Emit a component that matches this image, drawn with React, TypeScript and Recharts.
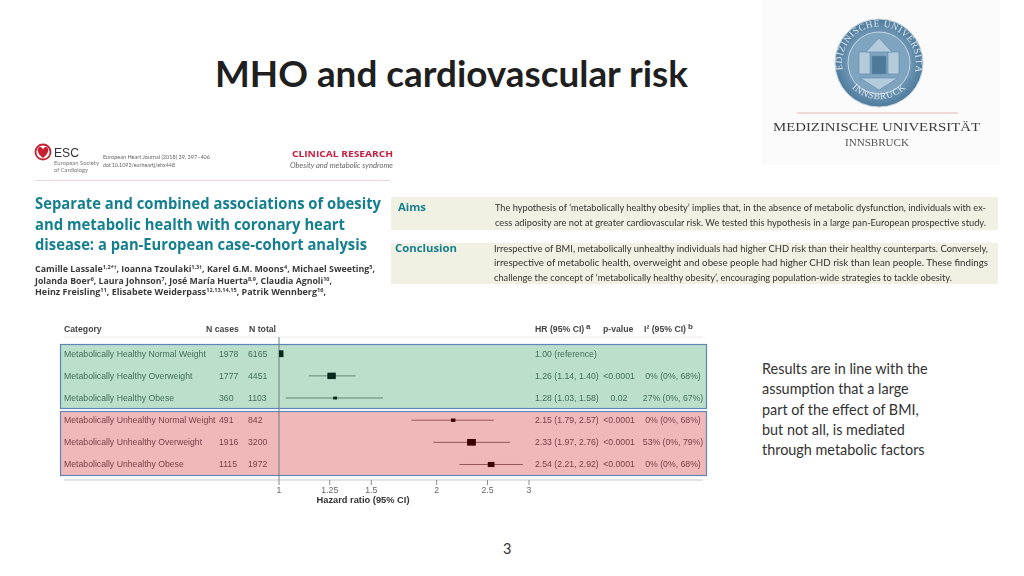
import React from "react";
import {
  ScatterChart,
  Scatter,
  XAxis,
  YAxis,
  ErrorBar,
  ReferenceLine,
} from "recharts";

// forest plot values
const categories = [
  "Metabolically Healthy Normal Weight",
  "Metabolically Healthy Overweight",
  "Metabolically Healthy Obese",
  "Metabolically Unhealthy Normal Weight",
  "Metabolically Unhealthy Overweight",
  "Metabolically Unhealthy Obese",
];
const nCases = [1978, 1777, 360, 491, 1916, 1115];
const nTotal = [6165, 4451, 1103, 842, 3200, 1972];
const hazard = [1.0, 1.26, 1.28, 2.15, 2.33, 2.54];
const ciLow = [1.0, 1.14, 1.03, 1.79, 1.97, 2.21];
const ciHigh = [1.0, 1.4, 1.58, 2.57, 2.76, 2.92];
const pValues = ["", "<0.0001", "0.02", "<0.0001", "<0.0001", "<0.0001"];
const i2Labels = ["", "0% (0%, 68%)", "27% (0%, 67%)", "0% (0%, 68%)", "53% (0%, 79%)", "0% (0%, 68%)"];
const xTicks = [1, 1.25, 1.5, 2, 2.5, 3];
const rowTicks = [0, 1, 2, 3, 4, 5];

const resultLines = [
  "Results are in line with the",
  "assumption that a large",
  "part of the effect of BMI,",
  "but not all, is mediated",
  "through metabolic factors",
];

const rows = categories.map((name, i) => ({
  name,
  row: i,
  hr: hazard[i],
  cases: nCases[i],
  err: [hazard[i] - ciLow[i], ciHigh[i] - hazard[i]],
}));
const healthyRows = rows.slice(0, 3);
const unhealthyRows = rows.slice(3);

const SANS = "'Liberation Sans', Arial, sans-serif";
const TEAL = "#147f8f";

function hrLabel(i: number) {
  if (i === 0) return "1.00 (reference)";
  return `${hazard[i].toFixed(2)} (${ciLow[i].toFixed(2)}, ${ciHigh[i].toFixed(2)})`;
}

// marker area follows the number of cases, like in the paper
function Square(props: any) {
  const { cx, cy, payload, fill } = props;
  const w = 0.2 * Math.sqrt(payload.cases);
  const h = w * 0.76;
  return <rect x={cx - w / 2} y={cy - h / 2} width={w} height={h} fill={fill} />;
}

function RowTick(props: any) {
  const { y, payload } = props;
  const i = payload.value;
  const color = i < 3 ? "#41705b" : "#7a414a";
  const ty = y + 3;
  const common = { y: ty, fontSize: 8.7, fontFamily: SANS, fill: color };
  return (
    <g>
      <text x={64} {...common}>{categories[i]}</text>
      <text x={219} {...common}>{nCases[i]}</text>
      <text x={248} {...common}>{nTotal[i]}</text>
      <text x={535} {...common}>{hrLabel(i)}</text>
      <text x={619} textAnchor="middle" {...common}>{pValues[i]}</text>
      <text x={673} textAnchor="middle" {...common}>{i2Labels[i]}</text>
    </g>
  );
}

function ForestPlot() {
  return (
    <ScatterChart
      width={1024}
      height={576}
      margin={{ top: 337.1, right: 495, bottom: 66, left: 0 }}
      style={{ position: "absolute", left: 0, top: 0 }}
    >
      <XAxis
        type="number"
        dataKey="hr"
        scale="log"
        domain={[1, 3]}
        ticks={xTicks}
        interval={0}
        allowDataOverflow
        height={30}
        axisLine={false}
        tickSize={5}
        tickLine={{ stroke: "#8a8a8a" }}
        tick={{ fontSize: 8.7, fontFamily: SANS, fill: "#666" }}
        tickFormatter={(v: number) => String(v)}
        label={{
          value: "Hazard ratio (95% CI)",
          position: "insideBottom",
          dx: -41,
          dy: -2,
          fontSize: 9.3,
          fontWeight: 700,
          fontFamily: SANS,
          fill: "#333",
        }}
      />
      <YAxis
        type="number"
        dataKey="row"
        reversed
        domain={[-0.75, 5.7]}
        ticks={rowTicks}
        interval={0}
        width={279}
        axisLine={false}
        tickLine={false}
        tick={<RowTick />}
      />
      <ReferenceLine x={1} stroke="#6f7f85" strokeWidth={1} />
      <Scatter data={healthyRows} fill="#06291c" shape={<Square />} isAnimationActive={false}>
        <ErrorBar dataKey="err" direction="x" width={0} stroke="#4d6e60" strokeWidth={0.8} isAnimationActive={false} />
      </Scatter>
      <Scatter data={unhealthyRows} fill="#3a0204" shape={<Square />} isAnimationActive={false}>
        <ErrorBar dataKey="err" direction="x" width={0} stroke="#7a3b40" strokeWidth={0.8} isAnimationActive={false} />
      </Scatter>
    </ScatterChart>
  );
}

function Fit({ x, y, w, size, color = "#333", bold, italic, family = "Lato", children }: any) {
  return (
    <text
      x={x}
      y={y}
      textLength={w}
      lengthAdjust="spacingAndGlyphs"
      fontSize={size}
      fill={color}
      fontWeight={bold ? 700 : 400}
      fontStyle={italic ? "italic" : "normal"}
      fontFamily={family}
    >
      {children}
    </text>
  );
}

const Sup = ({ children }: any) => (
  <>
    <tspan dy={-3} fontSize={6}>{children}</tspan>
    <tspan dy={3}>{"\u200b"}</tspan>
  </>
);

function Paper() {
  const author = { size: 9.6, bold: true, color: "#3a3a3a", family: "Open Sans" };
  return (
    <svg width={1024} height={576} style={{ position: "absolute", left: 0, top: 0, filter: "blur(0.35px)" }}>
      {/* header of the paper */}
      <circle cx={43} cy={152} r={7.5} fill="#fff" stroke="#c4202f" strokeWidth={1.8} />
      <path d="M43 158 C36 153 37 147 40 147 C42 147 43 149 43 150 C43 149 44 147 46 147 C49 147 50 153 43 158Z" fill="#c4202f" />
      <Fit x={54} y={157} w={25} size={13} color="#333" family="Liberation Sans">ESC</Fit>
      <Fit x={54} y={165} w={45} size={5.5} color="#777">European Society</Fit>
      <Fit x={54} y={172} w={34} size={5.5} color="#777">of Cardiology</Fit>
      <Fit x={103} y={159} w={107} size={5.3} color="#666">European Heart Journal (2018) 39, 397–406</Fit>
      <Fit x={103} y={167} w={72} size={5.3} color="#666">doi:10.1093/eurheartj/ehx448</Fit>
      <Fit x={292} y={157} w={101} size={8} bold color="#c8203f" family="Open Sans">CLINICAL RESEARCH</Fit>
      <Fit x={290} y={168} w={103} size={7} italic color="#666">Obesity and metabolic syndrome</Fit>
      <line x1={35} x2={390} y1={180.5} y2={180.5} stroke="#f3d6da" />

      <Fit x={35} y={209} w={346} size={15.5} bold color={TEAL} family="Open Sans">Separate and combined associations of obesity</Fit>
      <Fit x={35} y={230} w={310} size={15.5} bold color={TEAL} family="Open Sans">and metabolic health with coronary heart</Fit>
      <Fit x={35} y={250} w={332} size={15.5} bold color={TEAL} family="Open Sans">disease: a pan-European case-cohort analysis</Fit>

      <Fit x={35} y={272} w={340} {...author}>Camille Lassale<Sup>1,2*†</Sup>, Ioanna Tzoulaki<Sup>1,3†</Sup>, Karel G.M. Moons<Sup>4</Sup>, Michael Sweeting<Sup>5</Sup>,</Fit>
      <Fit x={35} y={284} w={297} {...author}>Jolanda Boer<Sup>6</Sup>, Laura Johnson<Sup>7</Sup>, José María Huerta<Sup>8,9</Sup>, Claudia Agnoli<Sup>10</Sup>,</Fit>
      <Fit x={35} y={295} w={291} {...author}>Heinz Freisling<Sup>11</Sup>, Elisabete Weiderpass<Sup>12,13,14,15</Sup>, Patrik Wennberg<Sup>16</Sup>,</Fit>

      {/* aims and conclusion */}
      <rect x={391} y={197} width={607} height={33} fill="#f1f1e3" />
      <rect x={391} y={243} width={607} height={41} fill="#f1f1e3" />
      <Fit x={398} y={211} w={28} size={10.5} bold color={TEAL} family="Open Sans">Aims</Fit>
      <Fit x={395} y={252} w={62} size={10.5} bold color={TEAL} family="Open Sans">Conclusion</Fit>
      <Fit x={495} y={211} w={491} size={9.6}>The hypothesis of ‘metabolically healthy obesity’ implies that, in the absence of metabolic dysfunction, individuals with ex-</Fit>
      <Fit x={495} y={226} w={491} size={9.6}>cess adiposity are not at greater cardiovascular risk. We tested this hypothesis in a large pan-European prospective study.</Fit>
      <Fit x={494} y={252} w={494} size={9.6}>Irrespective of BMI, metabolically unhealthy individuals had higher CHD risk than their healthy counterparts. Conversely,</Fit>
      <Fit x={494} y={266} w={494} size={9.6}>irrespective of metabolic health, overweight and obese people had higher CHD risk than lean people. These findings</Fit>
      <Fit x={494} y={281} w={458} size={9.6}>challenge the concept of ‘metabolically healthy obesity’, encouraging population-wide strategies to tackle obesity.</Fit>

      {/* forest plot frame */}
      <line x1={64} x2={703} y1={337} y2={337} stroke="#efeaea" />
      <rect x={60.5} y={344.5} width={646} height={64} fill="#bbdfca" stroke="#5f86b8" strokeWidth={1.2} />
      <rect x={60.5} y={411.5} width={646} height={64} fill="#f0b9b9" stroke="#5f86b8" strokeWidth={1.2} />
      <line x1={64} x2={703} y1={480} y2={480} stroke="#c9c9c9" strokeWidth={1.2} />
      <g fontFamily={SANS} fontSize={8.7} fontWeight={700} fill="#444">
        <text x={64} y={332}>Category</text>
        <text x={206} y={332}>N cases</text>
        <text x={249} y={332}>N total</text>
        <text x={535} y={332}>HR (95% CI)</text>
        <text x={586} y={329} fontSize={8}>a</text>
        <text x={603} y={332}>p-value</text>
        <text x={644} y={332}>I² (95% CI)</text>
        <text x={688} y={329} fontSize={8}>b</text>
      </g>
    </svg>
  );
}

function Logo() {
  return (
    <svg width={1024} height={576} style={{ position: "absolute", left: 0, top: 0, filter: "blur(0.3px)" }}>
      <rect x={762} y={0} width={238} height={165} fill="#fbfbfb" />
      <defs>
        <radialGradient id="seal" cx="50%" cy="50%" r="50%">
          <stop offset="0%" stopColor="#8fb0c8" />
          <stop offset="70%" stopColor="#6f97b5" />
          <stop offset="100%" stopColor="#4e7a9c" />
        </radialGradient>
        <path id="sealTop" d="M843 72 A37 37 0 1 1 915 72" />
        <path id="sealBottom" d="M846 80 A38 38 0 0 0 912 80" />
      </defs>
      <circle cx={879} cy={63} r={44} fill="url(#seal)" stroke="#c8d6e0" strokeWidth={1} />
      <circle cx={879} cy={63} r={31} fill="#7ea4bf" stroke="#c5d6e2" strokeWidth={1} />
      <g fill="#b4cbdc" stroke="#5e88a8" strokeWidth={0.6}>
        <rect x={859} y={52} width={11} height={22} />
        <rect x={888} y={52} width={11} height={22} />
        <rect x={872} y={56} width={14} height={18} fill="#4f7998" />
        <path d="M866 52 L879 38 L892 52Z" />
        <path d="M860 78 L879 90 L898 78Z" />
      </g>
      <g fontFamily="Liberation Serif" fontSize={9.5} fill="#dbe7ef" letterSpacing={0.6}>
        <text>
          <textPath href="#sealTop" startOffset="50%" textAnchor="middle">MEDIZINISCHE UNIVERSITÄT</textPath>
        </text>
        <text>
          <textPath href="#sealBottom" startOffset="50%" textAnchor="middle">INNSBRUCK</textPath>
        </text>
      </g>
      <line x1={797} x2={958} y1={113} y2={113} stroke="#eccfc8" strokeWidth={1.5} />
      <Fit x={773} y={131} w={207} size={13} color="#3c3c3c" family="Liberation Serif">MEDIZINISCHE UNIVERSITÄT</Fit>
      <Fit x={845} y={146} w={64} size={9.5} color="#555" family="Liberation Serif">INNSBRUCK</Fit>
    </svg>
  );
}

export default function App() {
  return (
    <div
      style={{
        position: "absolute",
        left: 0,
        top: 0,
        width: 1024,
        height: 576,
        overflow: "hidden",
        background: "#fff",
      }}
    >
      <Logo />
      <Paper />
      <div style={{ position: "absolute", left: 0, top: 0, filter: "blur(0.35px)" }}>
        <ForestPlot />
      </div>
      <svg width={1024} height={576} style={{ position: "absolute", left: 0, top: 0 }}>
        <Fit x={215} y={87} w={473} size={36} bold color="#1f1f1f">MHO and cardiovascular risk</Fit>
        {resultLines.map((line, i) => (
          <text key={line} x={762} y={374 + i * 20.25} fontSize={14.4} fontFamily="Lato" fill="#333">
            {line}
          </text>
        ))}
        <text x={503} y={554} fontSize={14.4} fontFamily="Lato" fill="#333">3</text>
      </svg>
    </div>
  );
}
